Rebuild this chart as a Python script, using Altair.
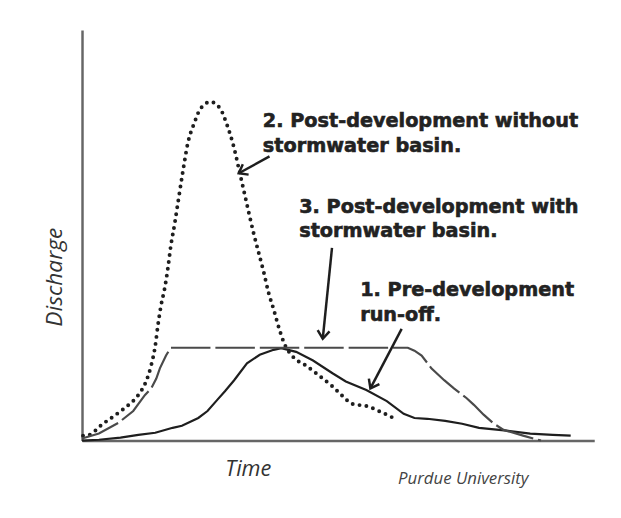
import altair as alt
import pandas as pd

# 1. Pre-development run-off (solid line)
pre_time = [0, 3.3, 7.5, 11.0, 14.3, 17.7, 19.5, 22.7, 24.5, 26.4, 27.9, 29.7, 32.2, 34.7, 37.4, 38.9,
            41.8, 45.1, 48.9, 51.5, 55.5, 59.5, 62.8, 64.9, 67.4, 70.9, 74.2, 77.5, 82.9, 87.5, 91.9, 95.4]
pre_q = [0, 0.2, 0.7, 1.4, 1.9, 3.1, 3.6, 5.5, 7.2, 9.9, 12.0, 14.7, 18.8, 20.9, 22.1, 22.5,
         21.6, 19.5, 16.4, 14.4, 12.3, 9.6, 6.5, 5.5, 5.3, 4.8, 4.1, 3.1, 2.4, 1.7, 1.4, 1.2]

# 2. Post-development without stormwater basin (dotted line)
post_time = [0.2, 1.4, 3.9, 6.6, 9.1, 11.0, 12.5, 13.5, 14.3, 14.8, 15.4, 16.2, 16.8, 17.3, 18.1, 18.7,
             19.7, 20.6, 22.0, 23.1, 25.1, 27.0, 28.3, 29.7, 30.6, 31.6, 32.6, 33.5, 34.5, 35.5, 36.4,
             37.4, 38.5, 39.5, 41.2, 43.7, 46.2, 48.9, 50.9, 52.8, 55.5, 58.8, 61.1]
post_q = [1.2, 1.4, 3.9, 6.3, 8.7, 11.1, 14.4, 18.3, 23.1, 27.9, 32.7, 37.5, 42.3, 47.1, 52.9, 57.7,
          65.6, 72.1, 77.6, 80.8, 82.5, 80.8, 76.9, 71.2, 66.3, 60.8, 55.3, 50.5, 45.7, 40.9, 36.1,
          32.0, 27.2, 23.6, 20.4, 18.3, 15.9, 13.2, 10.8, 8.9, 8.4, 6.7, 5.3]

# 3. Post-development with stormwater basin (dashed line)
basin_time = [0, 3.3, 7.1, 10.0, 12.3, 13.5, 14.5, 15.2, 16.4, 17.3, 63.6, 64.9, 66.3, 68.2, 70.7,
              72.6, 75.1, 76.5, 78.4, 80.4, 82.3, 86.1, 89.6]
basin_q = [0.5, 1.7, 4.3, 7.2, 11.1, 12.7, 15.1, 17.6, 20.7, 22.6, 22.6, 21.9, 20.7, 17.6, 14.7,
           12.7, 10.3, 8.7, 6.3, 4.1, 2.6, 1.2, 0]

# Annotation text lines
label_lines = ["2. Post-development without", "stormwater basin.",
               "3. Post-development with", "stormwater basin.",
               "1. Pre-development", "run-off."]
label_time = [35.3, 35.3, 42.4, 42.4, 54.3, 54.3]
label_q = [76.4, 70.4, 55.5, 49.5, 35.1, 29.1]

# Arrows (start -> tip)
arrow_start_time = [36.6, 48.8, 62.4]
arrow_start_q = [69.2, 46.9, 27.2]
arrow_tip_time = [30.6, 47.0, 56.3]
arrow_tip_q = [65.1, 24.8, 12.7]
arrow_angle = [151, 96, 118]

credit = ["Purdue University"]
credit_time = [61.7]
credit_q = [-10.6]

pre_df = pd.DataFrame({"t": pre_time, "q": pre_q, "i": range(len(pre_time))})
post_df = pd.DataFrame({"t": post_time, "q": post_q, "i": range(len(post_time))})
basin_df = pd.DataFrame({"t": basin_time, "q": basin_q, "i": range(len(basin_time))})
label_df = pd.DataFrame({"text": label_lines, "t": label_time, "q": label_q})
arrow_df = pd.DataFrame({"t": arrow_start_time, "q": arrow_start_q,
                         "t2": arrow_tip_time, "q2": arrow_tip_q, "angle": arrow_angle})
credit_df = pd.DataFrame({"text": credit, "t": credit_time, "q": credit_q})

xs = alt.Scale(domain=[0, 100], nice=False, zero=True)
ys = alt.Scale(domain=[0, 100], nice=False, zero=True)

x_axis = alt.Axis(title="Time", ticks=False, labels=False, grid=False, domainColor="#666",
                  domainWidth=2.5, titleFont="Open Sans", titleFontStyle="italic",
                  titleFontWeight="normal", titleFontSize=22, titleColor="#333",
                  titleX=168, titleY=35, titleBaseline="alphabetic", titleAlign="center")
y_axis = alt.Axis(title="Discharge", ticks=False, labels=False, grid=False, domainColor="#666",
                  domainWidth=2.5, titleFont="Open Sans", titleFontStyle="italic",
                  titleFontWeight="normal", titleFontSize=23, titleColor="#333",
                  titleX=-21, titleY=250, titleAngle=270, titleBaseline="alphabetic",
                  titleAlign="center")

pre = alt.Chart(pre_df).mark_line(color="#1e1e1e", strokeWidth=2.2).encode(
    x=alt.X("t:Q", scale=xs, axis=x_axis),
    y=alt.Y("q:Q", scale=ys, axis=y_axis),
    order="i:Q",
)

post = alt.Chart(post_df).mark_line(color="#1e1e1e", strokeWidth=4, strokeDash=[0, 7],
                                     strokeCap="round", interpolate="monotone").encode(
    x=alt.X("t:Q", scale=xs), y=alt.Y("q:Q", scale=ys), order="i:Q",
)

basin = alt.Chart(basin_df).mark_line(color="#4a4a4a", strokeWidth=2.2, strokeDash=[40, 5]).encode(
    x=alt.X("t:Q", scale=xs), y=alt.Y("q:Q", scale=ys), order="i:Q",
)

labels = alt.Chart(label_df).mark_text(align="left", baseline="alphabetic", font="DejaVu Sans",
                                       fontWeight="bold", fontSize=19.5, color="#222",
                                       stroke="#222", strokeWidth=0.6).encode(
    x=alt.X("t:Q", scale=xs), y=alt.Y("q:Q", scale=ys), text="text:N",
)

arrow_lines = alt.Chart(arrow_df).mark_rule(color="#1e1e1e", strokeWidth=2.5).encode(
    x=alt.X("t:Q", scale=xs), y=alt.Y("q:Q", scale=ys), x2="t2:Q", y2="q2:Q",
)

arrow_heads = alt.Chart(arrow_df).mark_point(
    shape="M-1,-0.75L0,0L-1,0.75", filled=False, color="#1e1e1e", strokeWidth=2.5,
    size=260, opacity=1, strokeJoin="miter"
).encode(
    x=alt.X("t2:Q", scale=xs), y=alt.Y("q2:Q", scale=ys),
    angle=alt.Angle("angle:Q", scale=None),
)

credit_text = alt.Chart(credit_df).mark_text(align="left", baseline="alphabetic",
                                             font="Open Sans", fontStyle="italic",
                                             fontSize=17, color="#444").encode(
    x=alt.X("t:Q", scale=xs), y=alt.Y("q:Q", scale=ys), text="text:N",
)

chart = alt.layer(pre, post, basin, labels, arrow_lines, arrow_heads, credit_text).properties(
    width=519, height=416,
    autosize=alt.AutoSizeParams(type="none"),
    padding={"left": 75, "top": 19, "right": 19, "bottom": 60},
    background="white",
).configure_view(strokeWidth=0)

chart.save("out.html", embed_options={"renderer": "svg", "actions": False})
